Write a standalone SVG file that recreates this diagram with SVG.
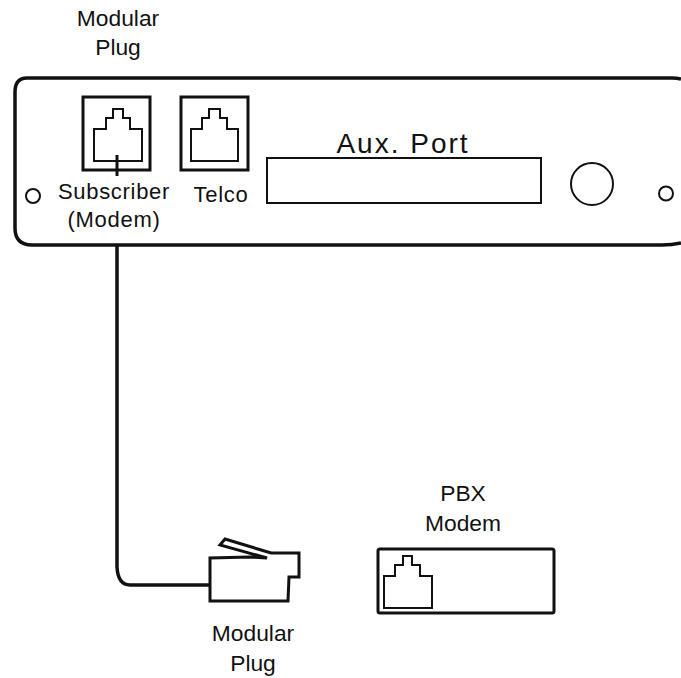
<svg xmlns="http://www.w3.org/2000/svg" width="681" height="678" viewBox="0 0 681 678">
<style>
text{font-family:"Liberation Sans",Arial,sans-serif;fill:#111;text-anchor:middle}
.l{font-size:22.800px}
.p{font-size:22px;letter-spacing:.7px}
.o{fill:none;stroke:#111;stroke-linejoin:miter}
.t{stroke-width:2}
.m{stroke-width:3}
.h{stroke-width:3.500px}
</style>
<rect width="681" height="678" fill="#fff"/>
<g id="connectors">
<path class="o h" d="M117 245V567Q118 585 130 585H210"/>
</g>
<g id="panel">
<path class="o h" d="M681 79Q677 78 672 78H27Q15 78 15 92V228Q15 245 32 245H662Q672 245 681 243"/>
<circle class="o t" cx="33" cy="196" r="7"/>
<circle class="o t" cx="666" cy="193.500" r="7"/>
<circle class="o t" cx="592" cy="184" r="21"/>
</g>
<g id="subscriber-jack">
<rect class="o m" x="83" y="97" width="67" height="73"/>
<path class="o t" d="M94 161V129H106V118H113V109H123V118H130V129H142V161Z"/>
<path class="o m" d="M117 155V176"/>
<text class="p" x="114" y="199">Subscriber</text>
<text class="p" x="114" y="227">(Modem)</text>
</g>
<g id="telco-jack">
<rect class="o m" x="181" y="97" width="67" height="73"/>
<path class="o t" d="M191 161V129H202V118H209V109H220V118H227V129H238V161Z"/>
<text class="p" x="221" y="202">Telco</text>
</g>
<g id="aux-port">
<rect class="o t" x="267" y="158" width="274" height="45"/>
<text x="403" y="153" font-size="28" letter-spacing="2">Aux. Port</text>
</g>
<g id="modular-plug-top">
<text class="l" x="118" y="26">Modular</text>
<text class="l" x="118" y="55">Plug</text>
</g>
<g id="modular-plug">
<path class="o m" d="M250 557L210 558V601H288L289 577H299V553H271L225 539L220 545L267 558Z"/>
<text class="l" x="253" y="641">Modular</text>
<text class="l" x="253" y="671">Plug</text>
</g>
<g id="pbx-modem">
<rect class="o m" x="378" y="549" width="176" height="64" rx="2"/>
<path class="o t" d="M384 608V576H395V565H403V556H412V565H420V576H432V608Z"/>
<text class="l" x="463" y="501">PBX</text>
<text class="l" x="463" y="531">Modem</text>
</g>
</svg>
